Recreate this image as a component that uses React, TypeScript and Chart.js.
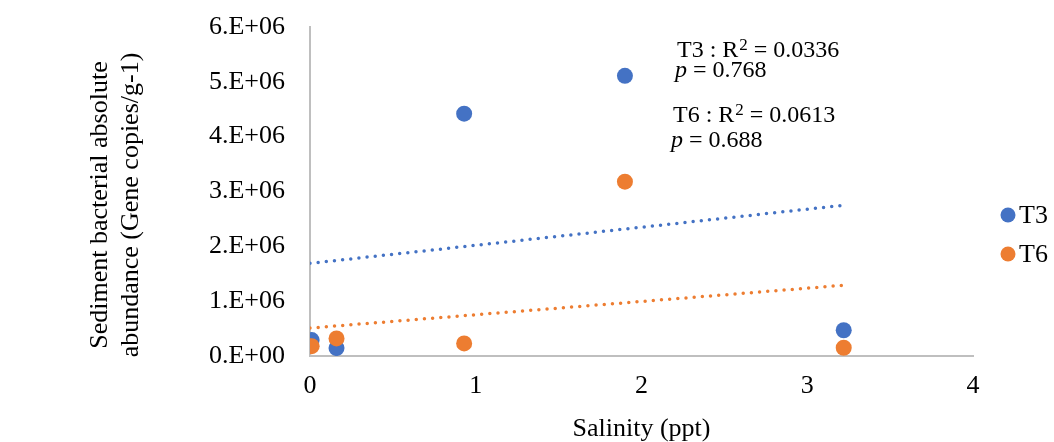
import React, { useEffect, useRef } from "react";
import { Chart, registerables } from "chart.js";

Chart.register(...registerables);

const FONT = "'Liberation Serif', 'Times New Roman', serif";

const salinityT3 = [0.01, 0.16, 0.93, 1.9, 3.22];
const abundanceT3 = [0.29e6, 0.145e6, 4.42e6, 5.11e6, 0.47e6];
const salinityT6 = [0.01, 0.16, 0.93, 1.9, 3.22];
const abundanceT6 = [0.18e6, 0.32e6, 0.23e6, 3.18e6, 0.15e6];

const trendX = [0, 3.22];
const trendT3 = [1.69e6, 2.75e6];
const trendT6 = [0.51e6, 1.29e6];

const seriesNames = ["T3", "T6"];
const seriesColors = ["#4472C4", "#ED7D31"];

const yTitleLines = ["Sediment bacterial absolute", "abundance (Gene copies/g-1)"];
const xTitle = "Salinity (ppt)";
const statsT3 = { name: "T3", r2: "0.0336", p: "0.768" };
const statsT6 = { name: "T6", r2: "0.0613", p: "0.688" };

const pts = (xs: number[], ys: number[]) => xs.map((x, i) => ({ x, y: ys[i] }));

const overlayPlugin = {
  id: "overlay",
  afterDraw(chart: any) {
    const ctx = chart.ctx as CanvasRenderingContext2D;
    ctx.save();
    ctx.fillStyle = "#000";
    ctx.font = `26px ${FONT}`;
    ctx.textAlign = "center";
    ctx.textBaseline = "middle";
    const cy = 205;
    [100, 131].forEach((cx, i) => {
      ctx.save();
      ctx.translate(cx, cy);
      ctx.rotate(-Math.PI / 2);
      ctx.fillText(yTitleLines[i], 0, 0);
      ctx.restore();
    });

    const drawR2 = (x: number, y: number, s: { name: string; r2: string }) => {
      ctx.textAlign = "left";
      ctx.textBaseline = "alphabetic";
      ctx.font = `24px ${FONT}`;
      const t = `${s.name} : R`;
      ctx.fillText(t, x, y);
      let cx = x + ctx.measureText(t).width;
      ctx.font = `17px ${FONT}`;
      ctx.fillText("2", cx + 1, y - 7);
      cx += ctx.measureText("2").width + 1;
      ctx.font = `24px ${FONT}`;
      ctx.fillText(` = ${s.r2}`, cx, y);
    };
    const drawP = (x: number, y: number, p: string) => {
      ctx.textAlign = "left";
      ctx.textBaseline = "alphabetic";
      ctx.font = `italic 24px ${FONT}`;
      ctx.fillText("p", x, y);
      const w = ctx.measureText("p").width;
      ctx.font = `24px ${FONT}`;
      ctx.fillText(` = ${p}`, x + w, y);
    };
    drawR2(677, 57, statsT3);
    drawP(675, 77, statsT3.p);
    drawR2(673, 122, statsT6);
    drawP(671, 147, statsT6.p);

    const legendY = [215, 254];
    seriesNames.forEach((n, i) => {
      ctx.fillStyle = seriesColors[i];
      ctx.beginPath();
      ctx.arc(1008, legendY[i], 7.5, 0, Math.PI * 2);
      ctx.fill();
      ctx.fillStyle = "#000";
      ctx.font = `26px ${FONT}`;
      ctx.textAlign = "left";
      ctx.textBaseline = "middle";
      ctx.fillText(n, 1019, legendY[i] + 1);
    });
    ctx.restore();
  },
};

export default function App() {
  const ref = useRef<HTMLCanvasElement | null>(null);
  useEffect(() => {
    document.body.style.margin = "0";
    if (!ref.current) return;
    Chart.defaults.font.family = FONT;
    const chart = new Chart(ref.current, {
      type: "scatter",
      data: {
        datasets: [
          {
            label: "T6",
            data: pts(salinityT6, abundanceT6),
            backgroundColor: seriesColors[1],
            borderWidth: 0,
            pointRadius: 8,
            order: 1,
          },
          {
            label: "T3",
            data: pts(salinityT3, abundanceT3),
            backgroundColor: seriesColors[0],
            borderWidth: 0,
            pointRadius: 8,
            order: 2,
          },
          {
            type: "line",
            label: "T3 trend",
            data: pts(trendX, trendT3),
            borderColor: seriesColors[0],
            borderWidth: 3.5,
            borderDash: [0, 8.2],
            borderCapStyle: "round",
            pointRadius: 0,
            showLine: true,
            fill: false,
            order: 3,
          } as any,
          {
            type: "line",
            label: "T6 trend",
            data: pts(trendX, trendT6),
            borderColor: seriesColors[1],
            borderWidth: 3.5,
            borderDash: [0, 8.2],
            borderCapStyle: "round",
            pointRadius: 0,
            showLine: true,
            fill: false,
            order: 3,
          } as any,
        ],
      },
      options: {
        responsive: false,
        animation: false,
        layout: { padding: { top: 27, right: 81, bottom: 0, left: 0 } },
        plugins: { legend: { display: false }, tooltip: { enabled: false } },
        scales: {
          x: {
            type: "linear",
            min: 0,
            max: 4,
            ticks: { stepSize: 1, color: "#000", font: { size: 26 }, padding: 7 },
            grid: { display: false },
            border: { display: true, color: "#BFBFBF", width: 2 },
            title: {
              display: true,
              text: xTitle,
              color: "#000",
              font: { size: 26, lineHeight: 1 },
              padding: { top: 0, bottom: 0 },
            },
            afterFit: (s: any) => {
              s.height = 86;
              s.paddingLeft = 0;
              s.paddingRight = 0;
            },
          },
          y: {
            type: "linear",
            min: 0,
            max: 6e6,
            ticks: {
              stepSize: 1e6,
              color: "#000",
              font: { size: 26 },
              padding: 17,
              callback: (v: any) => {
                const n = Number(v);
                return n === 0 ? "0.E+00" : `${Math.round(n / 1e6)}.E+06`;
              },
            },
            grid: { display: false },
            border: { display: true, color: "#BFBFBF", width: 2 },
            afterFit: (s: any) => {
              s.width = 310;
              s.paddingTop = 0;
              s.paddingBottom = 0;
            },
          },
        },
      },
      plugins: [overlayPlugin],
    });
    return () => chart.destroy();
  }, []);
  return (
    <div style={{ width: 1054, height: 442, background: "#fff" }}>
      <canvas ref={ref} width={1054} height={442} style={{ display: "block" }} />
    </div>
  );
}
